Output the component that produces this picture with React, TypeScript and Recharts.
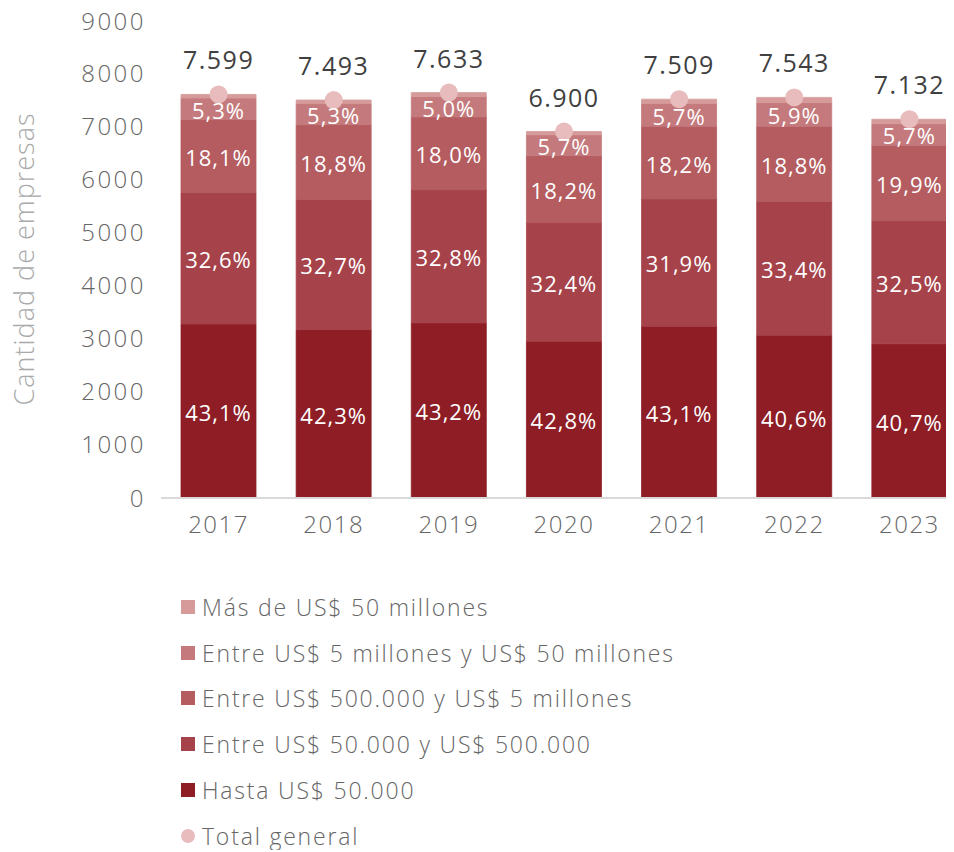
import React from 'react';
import { ComposedChart, Bar, Line, XAxis, YAxis, LabelList, Legend } from 'recharts';

const years = ['2017', '2018', '2019', '2020', '2021', '2022', '2023'];
const totals = [7599, 7493, 7633, 6900, 7509, 7543, 7132];

const hasta50k = [3275, 3170, 3297, 2953, 3236, 3062, 2903];
const entre50k500k = [2477, 2450, 2504, 2236, 2395, 2519, 2318];
const entre500k5m = [1375, 1409, 1374, 1256, 1367, 1418, 1419];
const entre5m50m = [403, 397, 382, 393, 428, 445, 407];
const mas50m = [69, 67, 76, 62, 83, 99, 85];

const pctHasta = [43.1, 42.3, 43.2, 42.8, 43.1, 40.6, 40.7];
const pct50k = [32.6, 32.7, 32.8, 32.4, 31.9, 33.4, 32.5];
const pct500k = [18.1, 18.8, 18.0, 18.2, 18.2, 18.8, 19.9];
const pct5m = [5.3, 5.3, 5.0, 5.7, 5.7, 5.9, 5.7];

const yTicks = [0, 1000, 2000, 3000, 4000, 5000, 6000, 7000, 8000, 9000];

const seriesNames = {
  mas: 'Más de US$ 50 millones',
  e5m: 'Entre US$ 5 millones y US$ 50 millones',
  e500k: 'Entre US$ 500.000 y US$ 5 millones',
  e50k: 'Entre US$ 50.000 y US$ 500.000',
  hasta: 'Hasta US$ 50.000',
  total: 'Total general',
};

const colors = {
  hasta: '#8E1D25',
  e50k: '#A6424A',
  e500k: '#B45C60',
  e5m: '#C47A7C',
  mas: '#D69A9B',
  total: '#E8BCBC',
};

const data = years.map((year, i) => ({
  year,
  hasta: hasta50k[i],
  e50k: entre50k500k[i],
  e500k: entre500k5m[i],
  e5m: entre5m50m[i],
  mas: mas50m[i],
  total: totals[i],
  pHasta: pctHasta[i],
  p50k: pct50k[i],
  p500k: pct500k[i],
  p5m: pct5m[i],
}));

const FONT = "'Open Sans', 'Noto Sans', sans-serif";

const fmtThousands = (v: number) => {
  const s = String(Math.round(v));
  return s.replace(/\B(?=(\d{3})+(?!\d))/g, '.');
};
const fmtPct = (v: number) => v.toFixed(1).replace('.', ',') + '%';

const PctLabel = (props: any) => {
  const { x, y, width, height, value } = props;
  return (
    <text
      x={x + width / 2}
      y={y + height / 2 + 4}
      textAnchor="middle"
      dominantBaseline="middle"
      fill="#ffffff"
      fontFamily={FONT}
      fontSize={22}
      fontWeight={500}
      letterSpacing={1}
    >
      {fmtPct(value)}
    </text>
  );
};

const TotalLabel = (props: any) => {
  const { x, y, value } = props;
  return (
    <text
      x={x}
      y={y - 25}
      textAnchor="middle"
      fill="#404040"
      fontFamily={FONT}
      fontSize={25}
      fontWeight={500}
      letterSpacing={1.5}
    >
      {fmtThousands(value)}
    </text>
  );
};

const legendItems = [
  { key: 'mas', type: 'square' },
  { key: 'e5m', type: 'square' },
  { key: 'e500k', type: 'square' },
  { key: 'e50k', type: 'square' },
  { key: 'hasta', type: 'square' },
  { key: 'total', type: 'circle' },
];

const renderLegend = () => (
  <div style={{ fontFamily: FONT }}>
    {legendItems.map((it) => (
      <div
        key={it.key}
        style={{ height: 45.8, display: 'flex', alignItems: 'center' }}
      >
        <span
          style={{
            display: 'inline-block',
            width: 14,
            height: 14,
            background: (colors as any)[it.key],
            borderRadius: it.type === 'circle' ? '50%' : 0,
            marginRight: 7,
          }}
        />
        <span style={{ fontSize: 23, color: '#666666', fontWeight: 300, letterSpacing: 1.8, lineHeight: '30px' }}>
          {(seriesNames as any)[it.key]}
        </span>
      </div>
    ))}
  </div>
);

export default function App() {
  return (
    <div>
      <style>{'.recharts-surface{overflow:visible}'}</style>
      <ComposedChart
        width={946}
        height={842}
        data={data}
        margin={{ top: 12, right: 0, left: 0, bottom: 312 }}
        barSize={75}
      >
        <XAxis
          dataKey="year"
          height={40}
          padding={{ left: 0, right: -13 }}
          axisLine={{ stroke: '#d9d9d9', strokeWidth: 2 }}
          tickLine={false}
          tickMargin={12}
          tick={{ fill: '#666666', fontSize: 24, fontFamily: FONT, fontWeight: 300, letterSpacing: 1.5 } as any}
        />
        <YAxis
          width={153}
          domain={[0, 9000]}
          ticks={yTicks}
          axisLine={false}
          tickLine={false}
          tickMargin={9}
          tick={{ fill: '#666666', fontSize: 24, fontFamily: FONT, fontWeight: 300, letterSpacing: 2.5 } as any}
          label={{
            value: 'Cantidad de empresas',
            angle: -90,
            position: 'insideLeft',
            offset: 16,
            style: { textAnchor: 'middle', fill: '#aaaaaa', fontSize: 27, fontFamily: FONT, fontWeight: 300, letterSpacing: 1 },
          }}
        />
        <Bar dataKey="hasta" name={seriesNames.hasta} stackId="a" fill={colors.hasta} stroke={colors.hasta} strokeWidth={0.8} isAnimationActive={false}>
          <LabelList dataKey="pHasta" content={PctLabel} />
        </Bar>
        <Bar dataKey="e50k" name={seriesNames.e50k} stackId="a" fill={colors.e50k} stroke={colors.e50k} strokeWidth={0.8} isAnimationActive={false}>
          <LabelList dataKey="p50k" content={PctLabel} />
        </Bar>
        <Bar dataKey="e500k" name={seriesNames.e500k} stackId="a" fill={colors.e500k} stroke={colors.e500k} strokeWidth={0.8} isAnimationActive={false}>
          <LabelList dataKey="p500k" content={PctLabel} />
        </Bar>
        <Bar dataKey="e5m" name={seriesNames.e5m} stackId="a" fill={colors.e5m} stroke={colors.e5m} strokeWidth={0.8} isAnimationActive={false}>
          <LabelList dataKey="p5m" content={PctLabel} />
        </Bar>
        <Bar dataKey="mas" name={seriesNames.mas} stackId="a" fill={colors.mas} stroke={colors.mas} strokeWidth={0.8} isAnimationActive={false} />
        <Line
          dataKey="total"
          name={seriesNames.total}
          stroke="none"
          dot={{ r: 9, fill: colors.total, stroke: 'none' }}
          activeDot={false}
          isAnimationActive={false}
        >
          <LabelList dataKey="total" content={TotalLabel} />
        </Line>
        <Legend
          verticalAlign="middle"
          align="center"
          layout="horizontal"
          wrapperStyle={{ top: 576, left: 173, width: 720, height: 266 }}
          content={renderLegend}
        />
      </ComposedChart>
    </div>
  );
}
